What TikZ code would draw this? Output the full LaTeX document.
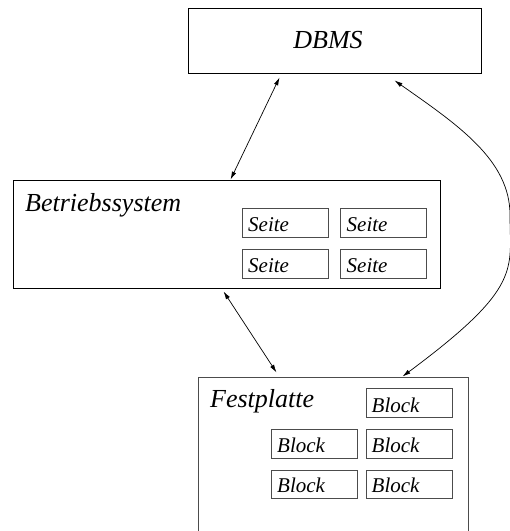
\documentclass[tikz,border=0pt]{standalone}
\usepackage{fontspec}
\setmainfont{Liberation Serif}
\usetikzlibrary{arrows.meta,calc}

\tikzset{
  outerbox/.style={draw=black, line width=0.9pt, inner sep=0pt},
  diskbox/.style={draw=black!70, line width=1pt, inner sep=0pt},
  unitbox/.style={draw=black!70, line width=1pt, inner sep=0pt,
                  minimum width=86pt, minimum height=28.5pt},
  bigtext/.style={inner sep=0pt, font=\fontsize{26}{30}\selectfont\itshape},
  smalltext/.style={inner sep=0pt, anchor=base west, font=\fontsize{21}{25}\selectfont\itshape},
  link/.style={line width=0.7pt, {Latex[length=8pt,width=4.5pt]}-{Latex[length=8pt,width=4.5pt]}}
}

\begin{document}
\begin{tikzpicture}[x=1pt, y=-1pt]
  \useasboundingbox (0,0) rectangle (510,531);
  \clip (0,0) rectangle (510,531);

  % database management system
  \node[outerbox, minimum width=293pt, minimum height=65pt] (dbms) at (334.5,40.5) {};
  \node[bigtext, anchor=base] (dbmslabel) at (328,48) {DBMS};

  % operating system with its page buffer
  \node[outerbox, minimum width=427pt, minimum height=108pt] (os) at (226.5,234) {};
  \node[bigtext, anchor=base west] (oslabel) at (25,211) {Betriebssystem};
  \node[unitbox] (s11) at (285,223) {};
  \node[unitbox] (s12) at (383.5,223) {};
  \node[unitbox] (s21) at (285,264) {};
  \node[unitbox] (s22) at (383.5,264) {};
  \node[smalltext] (t11) at (248,231) {Seite};
  \node[smalltext] (t12) at (346.5,231) {Seite};
  \node[smalltext] (t21) at (248,272) {Seite};
  \node[smalltext] (t22) at (346.5,272) {Seite};

  % hard disk with its blocks (runs off the lower edge)
  \node[diskbox, minimum width=270pt, minimum height=190pt] (disk) at (333,472) {};
  \node[bigtext, anchor=base west] (disklabel) at (210,407) {Festplatte};
  \node[unitbox] (b12) at (409,403) {};
  \node[unitbox] (b21) at (314,444) {};
  \node[unitbox] (b22) at (409,444) {};
  \node[unitbox] (b31) at (314,484.5) {};
  \node[unitbox] (b32) at (409,484.5) {};
  \node[smalltext] (u12) at (371.5,412) {Block};
  \node[smalltext] (u21) at (277,452.5) {Block};
  \node[smalltext] (u22) at (371.5,452.5) {Block};
  \node[smalltext] (u31) at (277,492.5) {Block};
  \node[smalltext] (u32) at (371.5,492.5) {Block};

  % connections
  \draw[link] ($(dbms.south west)+(92,4)$) -- ($(os.north west)+(218,0)$);
  \draw[link] ($(os.south west)+(211,3)$) -- ($(disk.north west)+(79,-4)$);
  \draw[link] ($(dbms.south west)+(207,7)$)
      .. controls (458,125) and (510,160) .. (510,215)
      .. controls (510,270) and (523,287) .. ($(disk.north west)+(205,0)$);
\end{tikzpicture}
\end{document}
